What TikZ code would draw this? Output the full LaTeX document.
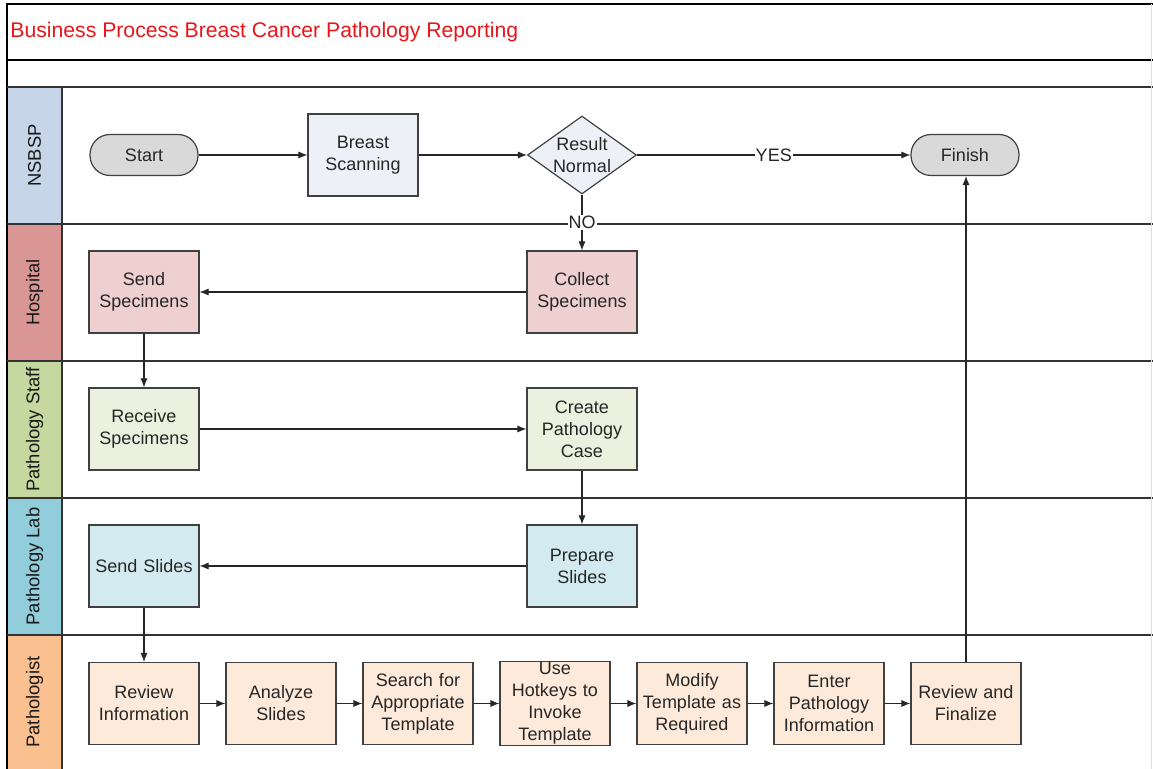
\documentclass[tikz,border=0pt]{standalone}
\usepackage{fontspec}
\setmainfont{Liberation Sans}
\usetikzlibrary{arrows.meta,shapes.geometric}
\definecolor{lineC}{HTML}{404040}
\definecolor{hdA}{HTML}{C6D5E8}
\definecolor{hdB}{HTML}{D99695}
\definecolor{hdC}{HTML}{C4D8A0}
\definecolor{hdD}{HTML}{92CDDC}
\definecolor{hdE}{HTML}{FAC090}
\definecolor{ndA}{HTML}{EDF0F6}
\definecolor{ndG}{HTML}{D9D9D9}
\definecolor{ndB}{HTML}{EFD0D0}
\definecolor{ndC}{HTML}{EBF1DE}
\definecolor{ndD}{HTML}{D3EAF0}
\definecolor{ndE}{HTML}{FDEADA}
\definecolor{titleC}{HTML}{E8161B}
\begin{document}
\begin{tikzpicture}[x=0.5pt,y=-0.5pt,
  txt/.style={font=\fontsize{9}{11}\selectfont, text=black!85, align=center},
  box/.style={txt, draw=lineC, line width=0.6pt, minimum width=55pt, minimum height=41pt, inner sep=0.5pt, text width=54pt},
  pill/.style={txt, draw=lineC, line width=0.6pt, fill=ndG, rounded corners=10pt, minimum width=54pt, minimum height=20.5pt},
  dia/.style={txt, draw=lineC, line width=0.6pt, fill=ndA, diamond, minimum width=54.5pt, minimum height=39pt, inner sep=0pt, aspect=1.4},
  lane/.style={draw=black!80, line width=0.85pt},
  hdr/.style={font=\fontsize{9.2}{10}\selectfont, text=black!90, rotate=90},
  arr/.style={-{Latex[length=4.5pt,width=3.6pt]}, line width=0.55pt, draw=black!85},
  lbl/.style={txt, fill=white, inner sep=0.5pt}]
\useasboundingbox (0,0) rectangle (1153,769);
% lane header fills
\fill[hdA] (7,87) rectangle (62,224);
\fill[hdB] (7,224) rectangle (62,361);
\fill[hdC] (7,361) rectangle (62,498);
\fill[hdD] (7,498) rectangle (62,635);
\fill[hdE] (7,635) rectangle (62,769);
% frame lines
\draw[line width=0.9pt, black] (7,769) -- (7,4) -- (1153,4);
\draw[line width=0.9pt, black] (7,60) -- (1153,60);
\draw[lane] (7,87) -- (1153,87);
\draw[lane] (7,224) -- (1153,224);
\draw[lane] (7,361) -- (1153,361);
\draw[lane] (7,498) -- (1153,498);
\draw[lane] (7,635) -- (1153,635);
\draw[lane] (62,87) -- (62,769);
\draw[black!12, line width=0.5pt] (1151,4) -- (1151,769);
% title
\node[anchor=west, text=titleC, font=\fontsize{10.6}{12}\selectfont, inner sep=0pt] (title) at (10,32) {Business Process Breast Cancer Pathology Reporting};
% lane headers
\node[hdr] (hA) at (34.5,155.5) {NSBSP};
\node[hdr] (hB) at (34.5,292.5) {Hospital};
\node[hdr] (hC) at (34.5,429.5) {Pathology Staff};
\node[hdr] (hD) at (34.5,566.5) {Pathology Lab};
\node[hdr] (hE) at (34.5,702) {Pathologist};
% nodes
\node[pill] (start) at (144,155) {Start};
\node[box, fill=ndA] (scan) at (363,155) {Breast\\Scanning};
\node[dia] (res) at (582,155) {Result\\Normal};
\node[pill] (finish) at (965,155) {Finish};
\node[box, fill=ndB] (sendsp) at (144,292) {Send\\Specimens};
\node[box, fill=ndB] (collect) at (582,292) {Collect\\Specimens};
\node[box, fill=ndC] (recv) at (144,429) {Receive\\Specimens};
\node[box, fill=ndC] (create) at (582,429) {Create\\Pathology\\Case};
\node[box, fill=ndD] (sendsl) at (144,566) {Send Slides};
\node[box, fill=ndD] (prep) at (582,566) {Prepare\\Slides};
\node[box, fill=ndE] (revinfo) at (144,703.5) {Review\\Information};
\node[box, fill=ndE] (analyze) at (281,703.5) {Analyze\\Slides};
\node[box, fill=ndE] (search) at (418,703.5) {Search for\\Appropriate\\Template};
\node[box, fill=ndE] (hotkeys) at (555,703.5) {Use\\Hotkeys to\\Invoke\\Template};
\node[box, fill=ndE] (modify) at (692,703.5) {Modify\\Template as\\Required};
\node[box, fill=ndE] (enter) at (829,703.5) {Enter\\Pathology\\Information};
\node[box, fill=ndE] (final) at (966,703.5) {Review and\\Finalize};
% connectors
\draw[arr] (start) -- (scan);
\draw[arr] (scan) -- (res);
\draw[arr] (res) -- node[lbl] (yes) {YES} (finish);
\draw[arr] (res) -- node[lbl, pos=0.5] (no) {NO} (collect);
\draw[arr] (collect) -- (sendsp);
\draw[arr] (sendsp) -- (recv);
\draw[arr] (recv) -- (create);
\draw[arr] (create) -- (prep);
\draw[arr] (prep) -- (sendsl);
\draw[arr] (sendsl) -- (revinfo);
\draw[arr] (revinfo) -- (analyze);
\draw[arr] (analyze) -- (search);
\draw[arr] (search) -- (hotkeys);
\draw[arr] (hotkeys) -- (modify);
\draw[arr] (modify) -- (enter);
\draw[arr] (enter) -- (final);
\draw[arr] (final.north) -- (final.north |- finish.south);
\end{tikzpicture}
\end{document}
